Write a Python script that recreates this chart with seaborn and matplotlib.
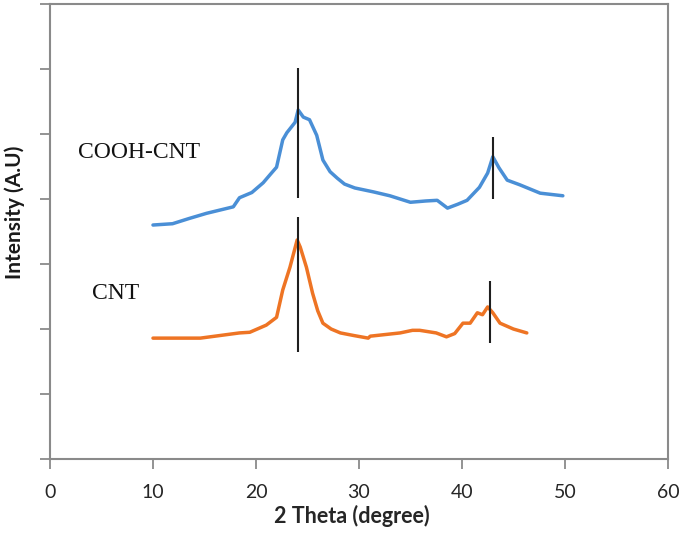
import matplotlib
matplotlib.use("Agg")
import matplotlib.pyplot as plt
import seaborn as sns
import pandas as pd

# COOH-CNT trace (2 theta, intensity)
cooh_x = [10.0, 11.9, 13.5, 15.2, 17.8, 18.4, 19.6, 20.7, 21.4, 22.0, 22.6, 23.0, 23.8,
          24.1, 24.6, 25.2, 25.9, 26.5, 27.2, 27.9, 28.6, 29.6, 31.4, 33.0, 35.0, 36.5,
          37.6, 38.6, 39.6, 40.5, 41.7, 42.5, 43.0, 43.6, 44.4, 45.6, 47.6, 49.8]
cooh_y = [3.60, 3.62, 3.70, 3.78, 3.88, 4.02, 4.10, 4.25, 4.38, 4.49, 4.91, 5.02, 5.18,
          5.37, 5.26, 5.22, 4.98, 4.60, 4.42, 4.32, 4.23, 4.17, 4.11, 4.05, 3.95, 3.97,
          3.98, 3.86, 3.92, 3.98, 4.18, 4.40, 4.65, 4.48, 4.29, 4.22, 4.09, 4.05]

# CNT trace
cnt_x = [10.0, 14.6, 18.4, 19.4, 21.0, 22.0, 22.6, 23.3, 24.0, 24.3, 24.9, 25.5, 26.0,
         26.5, 27.3, 28.2, 29.5, 30.9, 31.1, 34.0, 35.2, 35.9, 37.5, 38.5, 39.3, 39.8,
         40.1, 40.8, 41.5, 42.0, 42.5, 43.0, 43.7, 45.0, 46.3]
cnt_y = [1.86, 1.86, 1.94, 1.95, 2.06, 2.18, 2.60, 2.95, 3.37, 3.26, 2.95, 2.55, 2.28,
         2.09, 2.00, 1.94, 1.90, 1.86, 1.89, 1.94, 1.98, 1.98, 1.94, 1.88, 1.93, 2.03,
         2.09, 2.09, 2.25, 2.22, 2.34, 2.25, 2.09, 2.00, 1.94]

# peak marker lines: x, y bottom, y top
peak_x = [24.1, 24.1, 43.0, 42.7]
peak_lo = [4.02, 1.65, 4.00, 1.78]
peak_hi = [6.02, 3.72, 4.95, 2.74]

labels = ["COOH-CNT", "CNT"]
label_pos = [(2.7, 4.72), (4.1, 2.55)]

sns.set_style("white")
plt.rcParams['font.family'] = ['Lato', 'DejaVu Sans']

fig = plt.figure(figsize=(6.85, 5.35), dpi=100)
ax = fig.add_axes([0.073, 0.142, 0.902, 0.8505])

df1 = pd.DataFrame({"x": cooh_x, "y": cooh_y})
df2 = pd.DataFrame({"x": cnt_x, "y": cnt_y})
sns.lineplot(data=df1, x="x", y="y", ax=ax, color="#4a8fd6", linewidth=2.5, sort=False)
sns.lineplot(data=df2, x="x", y="y", ax=ax, color="#ee7424", linewidth=2.5, sort=False)

ax.vlines(peak_x, peak_lo, peak_hi, colors="#1f1f1f", linewidth=1.5)

for txt, (tx, ty) in zip(labels, label_pos):
    ax.text(tx, ty, txt, fontsize=17, family=['Liberation Serif'], va='center', ha='left',
            color='#111111')

ax.set_xlim(0, 60)
ax.set_ylim(0, 7)
ax.set_xticks(range(0, 61, 10))
ax.set_yticks(range(0, 8))
ax.set_yticklabels([])
ax.tick_params(axis='both', direction='out', length=7, width=1.3, color='#8a8a8a',
               labelsize=14, labelcolor='#262626')
ax.tick_params(axis='x', pad=11)
ax.tick_params(axis='y', left=True)
ax.tick_params(axis='x', bottom=True)
for s in ax.spines.values():
    s.set_color('#8a8a8a')
    s.set_linewidth(1.5)
ax.set_xlabel("2 Theta (degree)", fontsize=15.5, fontweight='bold', color='#262626', labelpad=3)
ax.set_ylabel("Intensity (A.U)", fontsize=15, fontweight='bold', color='#1a1a1a')
ax.yaxis.set_label_coords(-0.04, 0.543)
ax.xaxis.set_label_coords(0.489, -0.1)
ax.xaxis.label.set_va('top')

fig.savefig("out.png", dpi=100)
